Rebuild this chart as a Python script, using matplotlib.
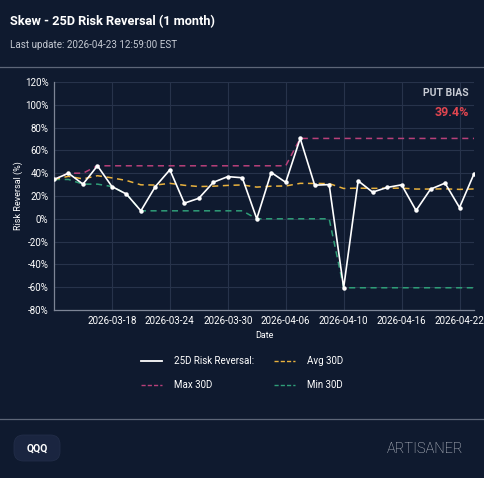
import matplotlib
matplotlib.use("Agg")
import matplotlib.pyplot as plt
from matplotlib.patches import FancyBboxPatch
from matplotlib.lines import Line2D

plt.rcParams['font.family'] = ['Roboto', 'DejaVu Sans']

dates = ["2026-03-12", "2026-03-13", "2026-03-16", "2026-03-17", "2026-03-18",
         "2026-03-19", "2026-03-20", "2026-03-23", "2026-03-24", "2026-03-25",
         "2026-03-26", "2026-03-27", "2026-03-30", "2026-03-31", "2026-04-01",
         "2026-04-02", "2026-04-06", "2026-04-07", "2026-04-08", "2026-04-09",
         "2026-04-10", "2026-04-13", "2026-04-14", "2026-04-15", "2026-04-16",
         "2026-04-17", "2026-04-20", "2026-04-21", "2026-04-22", "2026-04-23"]
rr = [34.5, 40.0, 30.4, 46.5, 28.3, 21.7, 7.0, 28.3, 43.0, 13.7,
      18.0, 32.0, 37.0, 36.0, 0.0, 40.6, 32.0, 70.5, 29.5, 30.0,
      -60.5, 33.3, 23.4, 27.5, 29.8, 7.3, 26.0, 31.3, 9.9, 39.4]
avg30 = [34.5, 37.3, 35.0, 37.8, 35.9, 33.6, 29.8, 29.6, 31.1, 29.4,
         28.3, 28.6, 29.3, 29.7, 27.8, 28.6, 28.8, 31.1, 31.0, 30.9,
         26.6, 26.9, 26.7, 26.8, 26.9, 26.1, 26.1, 26.3, 25.8, 26.2]
max30 = [34.5, 40.0, 40.0, 46.5, 46.5, 46.5, 46.5, 46.5, 46.5, 46.5,
         46.5, 46.5, 46.5, 46.5, 46.5, 46.5, 46.5, 70.5, 70.5, 70.5,
         70.5, 70.5, 70.5, 70.5, 70.5, 70.5, 70.5, 70.5, 70.5, 70.5]
min30 = [34.5, 34.5, 30.4, 30.4, 28.3, 21.7, 7.0, 7.0, 7.0, 7.0,
         7.0, 7.0, 7.0, 7.0, 0.0, 0.0, 0.0, 0.0, 0.0, 0.0,
         -60.5, -60.5, -60.5, -60.5, -60.5, -60.5, -60.5, -60.5, -60.5, -60.5]
xtick_labels = ["2026-03-18", "2026-03-24", "2026-03-30", "2026-04-06",
                "2026-04-10", "2026-04-16", "2026-04-22"]
yticks = [-80, -60, -40, -20, 0, 20, 40, 60, 80, 100, 120]
put_bias = "39.4%"

BG = "#0f1a2f"
GRID = "#27334b"
W, H = 484, 478

fig = plt.figure(figsize=(W / 100, H / 100), dpi=100, facecolor=BG)

def fx(px):
    return px / W

def fy(py):
    return 1 - py / H

fig.text(fx(10), fy(22), "Skew - 25D Risk Reversal (1 month)", color="white",
         fontsize=9.2, fontweight="bold", va="center", ha="left")
fig.text(fx(10), fy(45), "Last update: 2026-04-23 12:59:00 EST", color="#c4c9d2",
         fontsize=7.1, va="center", ha="left")
fig.add_artist(Line2D([0, 1], [fy(67), fy(67)], color="#5d6678", lw=0.9,
                      transform=fig.transFigure))
fig.add_artist(Line2D([0, 1], [fy(419), fy(419)], color="#5d6678", lw=0.9,
                      transform=fig.transFigure))

ax = fig.add_axes([fx(54), fy(310), fx(420), 228 / H])
ax.set_facecolor(BG)
x = list(range(len(dates)))
ax.plot(x, max30, color="#b8407a", lw=1.1, ls=(0, (4, 3)), zorder=2)
ax.plot(x, min30, color="#2f9e78", lw=1.1, ls=(0, (4, 3)), zorder=2)
ax.plot(x, avg30, color="#e9b23e", lw=1.1, ls=(0, (4, 3)), zorder=2)
ax.plot(x, rr, color="white", lw=1.2, marker="o", ms=2.2, zorder=3)

ax.set_xlim(0, len(dates) - 1)
ax.set_ylim(-80, 120)
ax.set_yticks(yticks)
ax.set_yticklabels([f"{v}%" for v in yticks])
tick_pos = [dates.index(d) for d in xtick_labels]
ax.set_xticks(tick_pos)
ax.set_xticklabels(xtick_labels)
ax.tick_params(colors="white", labelsize=7, length=0, pad=4)
ax.grid(True, color=GRID, lw=0.8)
ax.set_axisbelow(True)
for s in ["top", "right"]:
    ax.spines[s].set_visible(False)
for s in ["left", "bottom"]:
    ax.spines[s].set_color("#7d8596")
    ax.spines[s].set_linewidth(0.9)
ax.set_xlabel("Date", color="white", fontsize=6.5, va="center")
ax.set_ylabel("Risk Reversal (%)", color="white", fontsize=6.5, va="center")
ax.xaxis.set_label_coords(0.5, -(336 - 310) / 228)
ax.yaxis.set_label_coords((18 - 54) / 420, 0.5)

ax.text(0.988, 0.952, "PUT BIAS", transform=ax.transAxes, ha="right", va="center",
        color="#c8ccd4", fontsize=7.5, fontweight="bold")
ax.text(0.988, 0.868, put_bias, transform=ax.transAxes, ha="right", va="center",
        color="#e0454f", fontsize=9, fontweight="bold")

# legend
items = [("25D Risk Reversal:", "white", "-", 141, 361),
         ("Avg 30D", "#e9b23e", (0, (3, 1.5)), 274, 361),
         ("Max 30D", "#b8407a", (0, (3, 1.5)), 141, 385),
         ("Min 30D", "#2f9e78", (0, (3, 1.5)), 274, 385)]
for label, col, ls, px, py in items:
    fig.add_artist(Line2D([fx(px), fx(px + 21)], [fy(py), fy(py)], color=col,
                          lw=1.0 if ls != "-" else 1.3, ls=ls,
                          transform=fig.transFigure))
    fig.text(fx(px + 33), fy(py), label, color="white", fontsize=7,
             va="center", ha="left")

badge = FancyBboxPatch((fx(14), fy(461)), fx(46), 26 / H,
                       boxstyle="round,pad=0,rounding_size=0.02",
                       transform=fig.transFigure, facecolor="#1a2540",
                       edgecolor="#222d48", lw=0.6)
fig.add_artist(badge)
fig.text(fx(37), fy(449), "QQQ", color="white", fontsize=7.5, fontweight="bold",
         ha="center", va="center")
fig.text(fx(463), fy(449), "ARTISANER", color="#d0d4db", fontsize=10.5,
         fontweight="light", ha="right", va="center")

fig.savefig("out.png", dpi=100, facecolor=BG)
